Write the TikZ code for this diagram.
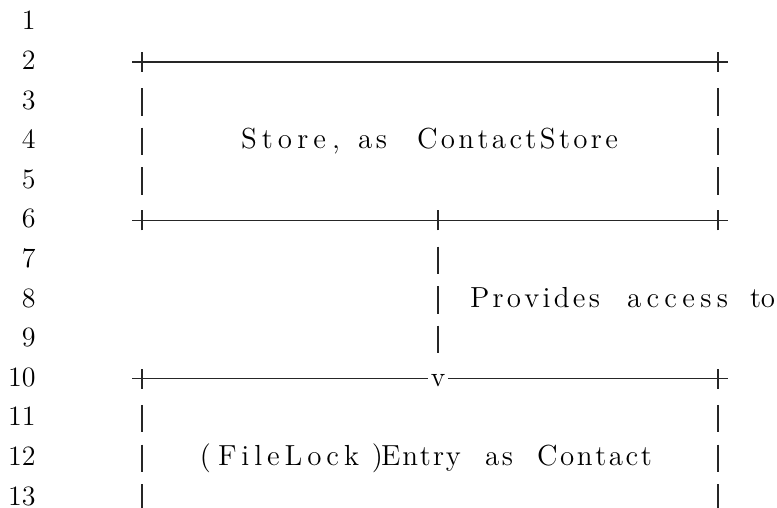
\documentclass[tikz,border=0pt]{standalone}
\usepackage{fontspec}
\newdimen\pxu \pxu=0.5pt
\makeatletter
\def\spread@first#1{#1\spread@rest}% letters spread over a fixed width
\def\spread@rest#1{\ifx\relax#1\else\hss#1\expandafter\spread@rest\fi}
\newcommand\spreadword[2]{\hbox to #1\pxu{\spread@first#2\relax}}
\makeatother

\begin{document}
\begin{tikzpicture}[
x=0.5pt, y=-0.5pt,
 lnum/.style = {anchor=base east, inner sep=0pt, outer sep=0pt,% line numbers
                font=\fontsize{14}{16}\selectfont},
 word/.style = {anchor=base west, inner sep=0pt, outer sep=0pt,% spread words
                font=\fontsize{14.5}{16}\selectfont},
punct/.style = {anchor=base, inner sep=0pt, outer sep=0pt,
                font=\fontsize{14.5}{16}\selectfont},
 rule/.style = {line width=0.55pt, black!85},
                    ]
\useasboundingbox (0,0) rectangle (777,508);
\foreach \n in {1,...,13}% <-- line numbers
    \node[lnum] (L\n) at (35.5,{29.9+39.6*(\n-1)}) {\n};
% corners of the two boxes
\coordinate (S-nw) at (142,62);    \coordinate (S-ne) at (718,62);
\coordinate (S-sw) at (142,220.4); \coordinate (S-se) at (718,220.4);
\coordinate (S-s)  at (438,220.4);
\coordinate (E-nw) at (142,378.8); \coordinate (E-ne) at (718,378.8);
\coordinate (E-n)  at (438,378.8);
% horizontal rules
\draw[rule] ([xshift=-5pt]S-nw) -- ([xshift=5pt]S-ne);
\draw[rule] ([xshift=-5pt]S-sw) -- ([xshift=5pt]S-se);
\draw[rule] ([xshift=-5pt]E-nw) -- ([xshift=-5pt]E-n);
\draw[rule] ([xshift=5pt]E-n) -- ([xshift=5pt]E-ne);
\node[anchor=base, inner sep=0pt, font=\fontsize{14}{16}\selectfont]
    (tip) at (438,386.3) {v};
\foreach \p in {S-nw,S-ne,S-sw,S-s,S-se,E-nw,E-ne}% <-- the + marks
    \draw[rule] ([yshift=-5pt]\p) -- ([yshift=5pt]\p);
% vertical bars
\foreach \k in {3,4,5,11,12,13}
  \foreach \x in {142,718}
    \draw[rule] (\x,{29.9+39.6*(\k-1)-21}) -- ++(0,27.5);
\foreach \k in {7,8,9}
    \draw[rule] (438,{29.9+39.6*(\k-1)-21}) -- ++(0,27.5);
% texts
\node[word]  (store)   at (241,148.7)   {\spreadword{85}{Store}};
\node[punct] (comma)   at (336,148.7)   {,};
\node[word]  (as1)     at (358,148.7)   {\spreadword{29}{as}};
\node[word]  (cstore)  at (417,148.7)   {\spreadword{201}{ContactStore}};
\node[word]  (prov)    at (470,307.1)   {\spreadword{130}{Provides}};
\node[word]  (access)  at (627,307.1)   {\spreadword{101}{access}};
\node[word]  (to)      at (750,307.1)   {\spreadword{25}{to}};
\node[punct] (lpar)    at (205.5,465.5) {(};
\node[word]  (flock)   at (218,465.5)   {\spreadword{141}{FileLock}};
\node[punct] (rpar)    at (377.5,465.5) {)};
\node[word]  (entry)   at (381,465.5)   {\spreadword{80}{Entry}};
\node[word]  (as2)     at (485,465.5)   {\spreadword{28}{as}};
\node[word]  (contact) at (537,465.5)   {\spreadword{115}{Contact}};
\end{tikzpicture}
\end{document}
